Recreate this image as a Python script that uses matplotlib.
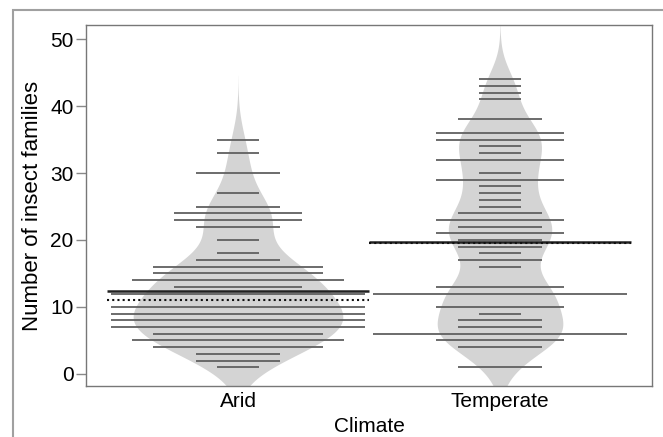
import numpy as np
import matplotlib
matplotlib.use("Agg")
import matplotlib.pyplot as plt
from matplotlib.patches import Rectangle

plt.rcParams['font.family'] = ['Liberation Sans', 'DejaVu Sans']

climates = ["Arid", "Temperate"]

arid_vals = [35, 33, 30, 27, 25, 24, 23, 22, 20, 18, 17, 16, 15, 14, 13, 12,
             10, 9, 8, 7, 6, 5, 4, 3, 2, 1]
arid_counts = [1, 1, 2, 1, 2, 3, 3, 2, 1, 1, 2, 4, 4, 5, 3, 6,
               6, 6, 6, 6, 4, 5, 4, 2, 2, 1]

temp_vals = [44, 43, 42, 41, 38, 36, 35, 34, 33, 32, 30, 29, 28, 27, 26, 25,
             24, 23, 22, 21, 20, 19, 18, 17, 16, 13, 12, 10, 9, 8, 7, 6, 5, 4, 1]
temp_counts = [1, 1, 1, 1, 2, 3, 3, 1, 1, 3, 1, 3, 1, 1, 1, 1,
               2, 3, 2, 3, 2, 2, 1, 2, 1, 3, 6, 3, 1, 2, 2, 6, 3, 2, 2]

mean_lines = [12.4, 19.75]     # solid group lines
dotted_lines = [11.0, 19.5]    # dotted group lines

bandwidths = [3.2, 2.9]


def kde(values, counts, bw, grid):
    obs = np.repeat(values, counts).astype(float)
    z = (grid[:, None] - obs[None, :]) / bw
    return np.exp(-0.5 * z ** 2).sum(axis=1) / (len(obs) * bw * np.sqrt(2 * np.pi))


fig = plt.figure(figsize=(6.63, 4.37), dpi=100)
fig.patches.append(Rectangle((13 / 663, -0.1), 1.2, 1.1 - 10 / 437, transform=fig.transFigure,
                             fill=False, edgecolor='#a0a0a0', lw=1.5))
ax = fig.add_axes([86 / 663, 1 - 386 / 437, 566 / 663, 361 / 437])

groups = [(arid_vals, arid_counts), (temp_vals, temp_counts)]
dens = []
grids = []
for (vals, cnts), bw in zip(groups, bandwidths):
    g = np.linspace(min(vals) - 3 * bw, max(vals) + 3 * bw, 400)
    grids.append(g)
    dens.append(kde(np.array(vals), np.array(cnts), bw, g))

scale = 0.40 / max(d.max() for d in dens)
step = 0.081

for i, ((vals, cnts), g, d) in enumerate(zip(groups, grids, dens)):
    pos = i + 1
    w = d * scale
    ax.fill_betweenx(g, pos - w, pos + w, color='#d4d4d4', lw=0, zorder=1)
    for v, c in zip(vals, cnts):
        ax.hlines(v, pos - step * c, pos + step * c, color='#606060', lw=1.3, zorder=2)
    ax.hlines(mean_lines[i], pos - 0.5, pos + 0.5, color='#222222', lw=1.8, zorder=3)
    ax.hlines(dotted_lines[i], pos - 0.5, pos + 0.5, color='#111111', lw=1.5,
              linestyles=(0, (1, 1.5)), zorder=3)

ax.set_xlim(0.42, 2.58)
ax.set_ylim(-1.8, 52.1)
ax.set_yticks([0, 10, 20, 30, 40, 50])
ax.set_xticks([1, 2])
ax.set_xticklabels(climates)
ax.tick_params(axis='x', length=0, labelsize=15, pad=4)
ax.tick_params(axis='y', length=7, width=1, color='#888888', labelsize=15, pad=2)
for s in ax.spines.values():
    s.set_color('#777777')
    s.set_linewidth(1)

ax.set_xlabel("Climate", fontsize=15, labelpad=5)
ax.set_ylabel("Number of insect families", fontsize=16, labelpad=5)

fig.savefig("out.png", dpi=100)
